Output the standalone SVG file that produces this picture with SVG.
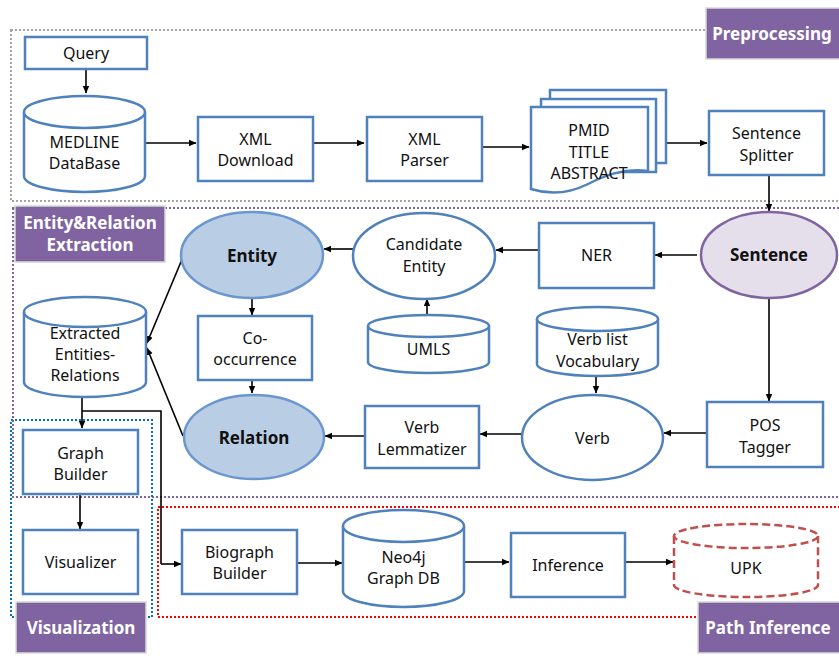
<svg xmlns="http://www.w3.org/2000/svg" width="839" height="656" viewBox="0 0 839 656">
<defs>
<marker id="ah" markerWidth="8" markerHeight="8" refX="7" refY="4" orient="auto" markerUnits="userSpaceOnUse">
<path d="M0,0.8 L7.5,4 L0,7.2 Z" fill="#000"/>
</marker>
</defs>
<style>
text{font-family:"Noto Sans","Liberation Sans",sans-serif;font-size:16px;fill:#111;text-anchor:middle}
.n{fill:#fff;stroke:#4f81bd;stroke-width:2.5}
.e{fill:#b9cde5;stroke:#6b97cf;stroke-width:2.5}
.b{font-weight:bold;font-size:17px}
.lab{fill:#8064a2;stroke:#d9d9d9;stroke-width:1.5}
.lt{fill:#fff;font-weight:bold;font-size:17px}
.c{fill:none;stroke:#000;stroke-width:1.6}
.ca{fill:none;stroke:#000;stroke-width:1.6;marker-end:url(#ah)}
</style>
<rect width="839" height="656" fill="#fff"/>
<g id="regions">
<rect x="11" y="30" width="840" height="171" fill="none" stroke="#a6a6a6" stroke-width="2" stroke-dasharray="2 2"/>
<rect x="13" y="208" width="840" height="289" fill="none" stroke="#8064a2" stroke-width="2" stroke-dasharray="2 2"/>
<rect x="11" y="420" width="141" height="197" fill="none" stroke="#0070c0" stroke-width="2" stroke-dasharray="2 2"/>
<rect x="158" y="507" width="700" height="110" fill="none" stroke="#ff0000" stroke-width="2" stroke-dasharray="2 2"/>
</g>
<g id="connectors">
<path class="ca" d="M86,69 V93"/>
<path class="ca" d="M145,143 H196"/>
<path class="ca" d="M313,143 H364"/>
<path class="ca" d="M482,147 H529"/>
<path class="ca" d="M665,143 H707"/>
<path class="ca" d="M769,175 V211"/>
<path class="ca" d="M697,255 H655"/>
<path class="ca" d="M539,250 H496"/>
<path class="ca" d="M353,249 H324"/>
<path class="ca" d="M427,315 V299"/>
<path class="ca" d="M769,298 V401"/>
<path class="ca" d="M707,433 H664"/>
<path class="ca" d="M596,376 V393"/>
<path class="ca" d="M522,434 H480"/>
<path class="ca" d="M365,436 H325"/>
<path class="ca" d="M252,298 V315"/>
<path class="ca" d="M252,380 V393"/>
<path class="ca" d="M183,257 L147,343"/>
<path class="ca" d="M183,436 L147,348"/>
<path class="ca" d="M82,397 V428"/>
<path class="c" d="M82,411 H161 V564"/>
<path class="ca" d="M161,564 H181"/>
<path class="ca" d="M80,494 V529"/>
<path class="ca" d="M297,563 H342"/>
<path class="ca" d="M464,562 H509"/>
<path class="ca" d="M625,562 H673"/>
</g>
<g id="query"><rect class="n" x="25" y="37" width="122" height="32"/><text x="86" y="59">Query</text></g>
<g id="medline">
<path class="n" d="M24,112 V176 A60.5,16 0 0 0 145,176 V112"/>
<ellipse class="n" cx="84.5" cy="112" rx="60.5" ry="16"/>
<text x="84.5" y="148">MEDLINE</text><text x="84.5" y="169">DataBase</text>
</g>
<g id="xmldownload"><rect class="n" x="198" y="117" width="115" height="64"/><text x="255.5" y="145">XML</text><text x="255.5" y="166">Download</text></g>
<g id="xmlparser"><rect class="n" x="367" y="117" width="115" height="64"/><text x="424.5" y="145">XML</text><text x="424.5" y="166">Parser</text></g>
<g id="docs">
<rect class="n" x="550" y="90" width="116" height="73"/>
<rect class="n" x="541" y="99" width="115" height="73"/>
<path class="n" d="M531,107 H648 V171 C622,168 604,176 588,184 C570,193 550,195 531,189 Z"/>
<text x="589" y="136">PMID</text><text x="589" y="158">TITLE</text><text x="589" y="179">ABSTRACT</text>
</g>
<g id="splitter"><rect class="n" x="709" y="111" width="115" height="64"/><text x="766.5" y="139">Sentence</text><text x="766.5" y="161">Splitter</text></g>
<g id="sentence"><ellipse cx="769" cy="255" rx="68" ry="43" fill="#e5dfec" stroke="#8064a2" stroke-width="2.5"/><text class="b" x="769" y="261">Sentence</text></g>
<g id="ner"><rect class="n" x="539" y="223" width="115" height="65"/><text x="596.5" y="261">NER</text></g>
<g id="candidate"><ellipse class="n" cx="424" cy="256" rx="71" ry="43"/><text x="424" y="250">Candidate</text><text x="424" y="272">Entity</text></g>
<g id="entity"><ellipse class="e" cx="252" cy="255" rx="71" ry="43"/><text class="b" x="252" y="262">Entity</text></g>
<g id="umls">
<path class="n" d="M368,326 V362 A60.5,11 0 0 0 489,362 V326"/>
<ellipse class="n" cx="428.5" cy="326" rx="60.5" ry="11"/>
<text x="428.5" y="355">UMLS</text>
</g>
<g id="verblist">
<path class="n" d="M537,319 V364 A60.5,12 0 0 0 658,364 V319"/>
<ellipse class="n" cx="597.5" cy="319" rx="60.5" ry="12"/>
<text x="597.5" y="345">Verb list</text><text x="597.5" y="367">Vocabulary</text>
</g>
<g id="cooccurrence"><rect class="n" x="198" y="316" width="114" height="64"/><text x="255" y="344">Co-</text><text x="255" y="365">occurrence</text></g>
<g id="extracted">
<path class="n" d="M24,312 V382 A61,15 0 0 0 146,382 V312"/>
<ellipse class="n" cx="85" cy="312" rx="61" ry="15"/>
<text x="85" y="339">Extracted</text><text x="85" y="360">Entities-</text><text x="85" y="381">Relations</text>
</g>
<g id="postagger"><rect class="n" x="707" y="402" width="116" height="65"/><text x="765" y="431">POS</text><text x="765" y="453">Tagger</text></g>
<g id="verb"><ellipse class="n" cx="592.5" cy="437.5" rx="70.5" ry="42.5"/><text x="592.5" y="444">Verb</text></g>
<g id="lemmatizer"><rect class="n" x="365" y="406" width="114" height="62"/><text x="422" y="433">Verb</text><text x="422" y="455">Lemmatizer</text></g>
<g id="relation"><ellipse class="e" cx="254" cy="437" rx="70" ry="42"/><text class="b" x="254" y="444">Relation</text></g>
<g id="graphbuilder"><rect class="n" x="23" y="430" width="115" height="64"/><text x="80.5" y="459">Graph</text><text x="80.5" y="480">Builder</text></g>
<g id="visualizer"><rect class="n" x="23" y="530" width="115" height="64"/><text x="80.5" y="568">Visualizer</text></g>
<g id="biograph"><rect class="n" x="182" y="530" width="115" height="64"/><text x="239.5" y="558">Biograph</text><text x="239.5" y="579">Builder</text></g>
<g id="neo4j">
<path class="n" d="M343,526 V591 A60.5,16 0 0 0 464,591 V526"/>
<ellipse class="n" cx="403.5" cy="526" rx="60.5" ry="16"/>
<text x="403.5" y="563">Neo4j</text><text x="403.5" y="584">Graph DB</text>
</g>
<g id="inference"><rect class="n" x="511" y="533" width="114" height="64"/><text x="568" y="571">Inference</text></g>
<g id="upk">
<path d="M674,536 V585 A72,12 0 0 0 818,585 V536" fill="#fff" stroke="#c0504d" stroke-width="2.5" stroke-dasharray="8 4"/>
<ellipse cx="746" cy="536" rx="72" ry="12" fill="#fff" stroke="#c0504d" stroke-width="2.5" stroke-dasharray="8 4"/>
<text x="746" y="574">UPK</text>
</g>
<g id="label-preprocessing"><rect class="lab" x="706" y="8" width="136" height="51"/><text class="lt" x="772" y="40">Preprocessing</text></g>
<g id="label-extraction"><rect class="lab" x="15" y="206" width="150" height="56"/><text class="lt" x="90" y="229">Entity&amp;Relation</text><text class="lt" x="90" y="251">Extraction</text></g>
<g id="label-visualization"><rect class="lab" x="16" y="602" width="130" height="51"/><text class="lt" x="81" y="634">Visualization</text></g>
<g id="label-path"><rect class="lab" x="698" y="602" width="144" height="51"/><text class="lt" x="768" y="634">Path Inference</text></g>
</svg>
